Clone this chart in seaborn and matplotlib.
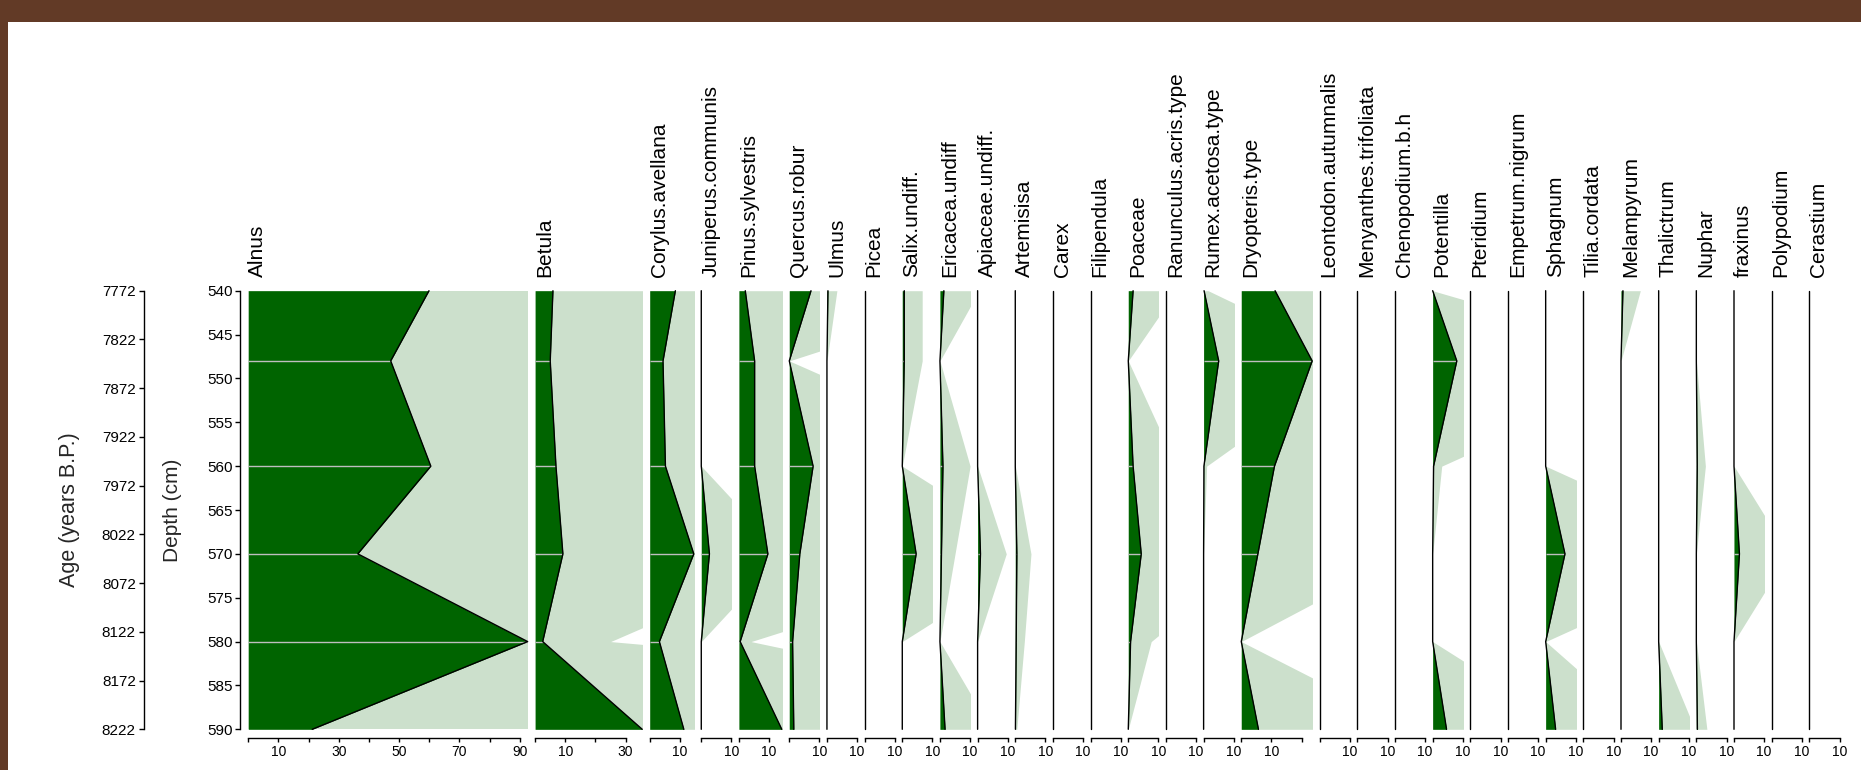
import numpy as np
import seaborn as sns
import matplotlib.pyplot as plt
from matplotlib.patches import Rectangle

sns.set_theme(style='white')
plt.rcParams['font.family'] = ['Liberation Sans', 'DejaVu Sans']

# ---- data (percent of pollen sum) ----
depths = [540, 548, 560, 570, 580, 590]
depth_ticks = [540, 545, 550, 555, 560, 565, 570, 575, 580, 585, 590]
age_ticks = [7772, 7822, 7872, 7922, 7972, 8022, 8072, 8122, 8172, 8222]

taxa = ['Alnus', 'Betula', 'Corylus.avellana', 'Juniperus.communis',
        'Pinus.sylvestris', 'Quercus.robur', 'Ulmus', 'Picea', 'Salix.undiff.',
        'Ericacea.undiff', 'Apiaceae.undiff.', 'Artemisisa', 'Carex',
        'Filipendula', 'Poaceae', 'Ranunculus.acris.type', 'Rumex.acetosa.type',
        'Dryopteris.type', 'Leontodon.autumnalis', 'Menyanthes.trifoliata',
        'Chenopodium.b.h', 'Potentilla', 'Pteridium', 'Empetrum.nigrum',
        'Sphagnum', 'Tilia.cordata', 'Melampyrum', 'Thalictrum', 'Nuphar',
        'fraxinus', 'Polypodium', 'Cerastium']

alnus = [59.9, 47.2, 60.5, 36.3, 92.6, 21.2]
betula = [5.9, 5.0, 6.9, 9.2, 2.5, 35.5]
corylus = [8.5, 4.4, 5.2, 14.6, 3.2, 11.3]
juniperus = [0, 0, 0, 2.7, 0, 0]
pinus = [2.1, 5.2, 5.2, 9.6, 0.4, 14.2]
quercus = [7.2, 0, 7.9, 3.5, 1.1, 1.5]
ulmus = [0.33, 0, 0, 0, 0, 0]
picea = [0, 0, 0, 0, 0, 0]
salix = [0.66, 0.66, 0, 4.6, 0, 0]
ericacea = [1.3, 0, 1.0, 0.5, 0, 1.7]
apiaceae = [0, 0, 0, 0.95, 0, 0]
artemisia = [0, 0, 0, 0.52, 0.3, 0.05]
carex = [0, 0, 0, 0, 0, 0]
filipendula = [0, 0, 0, 0, 0, 0]
poaceae = [1.6, 0, 1.6, 4.3, 0.76, 0]
ranunculus = [0, 0, 0, 0, 0, 0]
rumex = [0.15, 5.0, 0.1, 0, 0, 0]
dryopteris = [11.2, 23.5, 11.0, 5.5, 0, 5.7]
leontodon = [0, 0, 0, 0, 0, 0]
menyanthes = [0, 0, 0, 0, 0, 0]
chenopodium = [0, 0, 0, 0, 0, 0]
potentilla = [0, 8.0, 0.3, 0, 0, 4.6]
pteridium = [0, 0, 0, 0, 0, 0]
empetrum = [0, 0, 0, 0, 0, 0]
sphagnum = [0, 0, 0, 6.4, 0, 3.3]
tilia = [0, 0, 0, 0, 0, 0]
melampyrum = [0.64, 0, 0, 0, 0, 0]
thalictrum = [0, 0, 0, 0, 0, 1.2]
nuphar = [0, 0, 0.3, 0, 0, 0.35]
fraxinus = [0, 0, 0, 1.8, 0, 0]
polypodium = [0, 0, 0, 0, 0, 0]
cerastium = [0, 0, 0, 0, 0, 0]

values = [alnus, betula, corylus, juniperus, pinus, quercus, ulmus, picea,
          salix, ericacea, apiaceae, artemisia, carex, filipendula, poaceae,
          ranunculus, rumex, dryopteris, leontodon, menyanthes, chenopodium,
          potentilla, pteridium, empetrum, sphagnum, tilia, melampyrum,
          thalictrum, nuphar, fraxinus, polypodium, cerastium]

exag = 10
dark = '#006400'
light = '#cce0cc'

# ---- layout (pixels) ----
W, H = 1861, 770
left_px, right_px = 248.3, 1839.5
top_px, bot_px = 290.7, 729.3
gap_px = 7.5

xmaxs = [max(10, max(v)) for v in values]
scale = (right_px - left_px - gap_px * (len(taxa) - 1)) / sum(xmaxs)

fig = plt.figure(figsize=(W / 100, H / 100), dpi=100)
fig.patch.set_facecolor('#623a26')
fig.patches.append(Rectangle((7.5 / W, 0), 1, 1 - 22 / H, transform=fig.transFigure,
                             facecolor='white', edgecolor='none', zorder=-10))

x = left_px
axes = []
for name, vals, xmax in zip(taxa, values, xmaxs):
    w = xmax * scale
    ax = fig.add_axes([x / W, 1 - bot_px / H, w / W, (bot_px - top_px) / H])
    ax.set_zorder(5)
    ax.set_facecolor('none')
    vals = np.array(vals)
    # exaggerated curve (x10), then the real curve on top
    ax.fill_betweenx(depths, 0, vals * exag, color=light, lw=0)
    ax.fill_betweenx(depths, 0, vals, color=dark, lw=0)
    ax.hlines(depths[1:-1], 0, vals[1:-1], color='#bebebe', lw=1)
    ax.plot(vals, depths, color='black', lw=1, clip_on=False)
    ax.set_xlim(0, xmax)
    ax.set_ylim(590, 540)

    for s in ['top', 'right', 'left']:
        ax.spines[s].set_visible(False)
    ax.spines['bottom'].set_position(('outward', 6.5))
    ax.spines['bottom'].set_color('black')
    ax.spines['bottom'].set_linewidth(1)
    ticks = np.arange(0, xmax + 0.01, 10)
    ax.spines['bottom'].set_bounds(0, ticks[-1])
    ax.set_xticks(ticks)
    ax.set_xticklabels([str(int(t)) if int(t / 10) % 2 == 1 else '' for t in ticks])
    ax.tick_params(axis='x', direction='out', length=3, width=1, colors='black',
                   labelsize=10, pad=2, bottom=True)
    ax.set_yticks([])
    ax.grid(False)

    ax.annotate(name, xy=(0, 1), xycoords='axes fraction', xytext=(0, 10),
                textcoords='offset points', rotation=90, ha='left', va='bottom',
                fontsize=15, color='black')
    axes.append(ax)
    x += w + gap_px

# depth axis on first panel
ax0 = axes[0]
ax0.spines['left'].set_visible(True)
ax0.spines['left'].set_position(('outward', 5.8))
ax0.spines['left'].set_bounds(540, 590)
ax0.spines['left'].set_color('black')
ax0.spines['left'].set_linewidth(1)
ax0.set_yticks(depth_ticks)
ax0.tick_params(axis='y', direction='out', length=3.5, width=1, colors='black',
                labelsize=11, pad=2, left=True)

# age axis, linear over the depth range
a0, d0 = age_ticks[0], depth_ticks[0]
slope = (age_ticks[-1] - age_ticks[0]) / (depth_ticks[-1] - depth_ticks[0])
alnus_w = xmaxs[0] * scale
sec = ax0.secondary_yaxis((143.5 - left_px) / alnus_w,
                          functions=(lambda d: a0 + (np.asarray(d) - d0) * slope,
                                     lambda a: d0 + (np.asarray(a) - a0) / slope))
sec.set_yticks(age_ticks)
sec.spines['left'].set_color('black')
sec.spines['left'].set_linewidth(1)
sec.tick_params(axis='y', direction='out', length=3.5, width=1, colors='black',
                labelsize=11, pad=2)

fig.text(172.8 / W, 1 - 510 / H, 'Depth (cm)', rotation=90, ha='center',
         va='center', fontsize=15)
fig.text(69 / W, 1 - 510 / H, 'Age (years B.P.)', rotation=90, ha='center',
         va='center', fontsize=15.5)

fig.savefig('out.png', dpi=100, facecolor=fig.get_facecolor())
